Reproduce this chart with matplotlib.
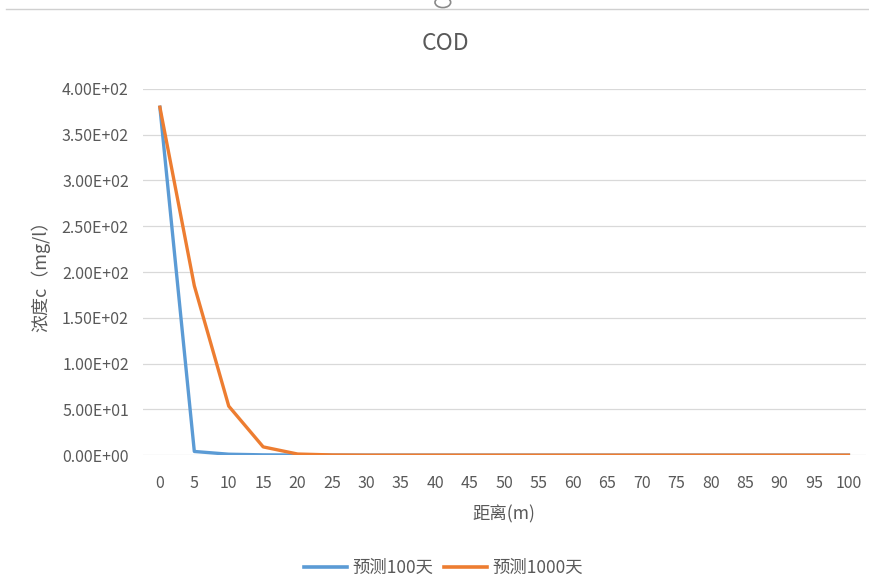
import numpy as np
import matplotlib.pyplot as plt
from matplotlib.lines import Line2D
from matplotlib.patches import Circle

plt.rcParams['font.family'] = ['Noto Sans CJK SC', 'DejaVu Sans']

# Data
distance = [0, 5, 10, 15, 20, 25, 30, 35, 40, 45, 50,
            55, 60, 65, 70, 75, 80, 85, 90, 95, 100]
pred_100 = [380, 4, 1, 0.3, 0.1, 0, 0, 0, 0, 0, 0,
            0, 0, 0, 0, 0, 0, 0, 0, 0, 0]
pred_1000 = [380, 185, 53.5, 9, 1.2, 0.2, 0, 0, 0, 0, 0,
             0, 0, 0, 0, 0, 0, 0, 0, 0, 0]
series_names = ['预测100天', '预测1000天']
colors = ['#5B9BD5', '#ED7D31']
text_color = '#595959'

fig = plt.figure(figsize=(8.7, 5.85), dpi=100)
ax = fig.add_axes([0.164, 0.222, 0.831, 0.626])

x = np.arange(len(distance))
ax.plot(x, pred_100, color=colors[0], lw=2.4, label=series_names[0],
        solid_joinstyle='round')
ax.plot(x, pred_1000, color=colors[1], lw=2.4, label=series_names[1],
        solid_joinstyle='round')

ax.set_xlim(-0.5, len(distance) - 0.5)
ax.set_ylim(0, 400)
ax.set_xticks(x)
ax.set_xticklabels([str(d) for d in distance])
ax.set_yticks(np.arange(0, 401, 50))
ax.set_yticklabels(['%.2E' % v for v in np.arange(0, 401, 50)])
ax.tick_params(length=0, labelsize=11.5, colors=text_color, pad=10)
ax.tick_params(axis='x', pad=14)

ax.grid(axis='y', color='#d9d9d9', lw=0.9)
ax.set_axisbelow(True)
for s in ax.spines.values():
    s.set_visible(False)

fig.text(0.512, 0.925, 'COD', fontsize=16.5, color=text_color,
         ha='center', va='center')
ax.set_xlabel('距离(m)', fontsize=12.5, color=text_color, labelpad=10)
ax.set_ylabel('浓度c（mg/l）', fontsize=13, color=text_color, labelpad=8)

handles = [Line2D([], [], color=c, lw=2.6) for c in colors]
fig.legend(handles, series_names, loc='center', bbox_to_anchor=(0.51, 0.029),
           ncol=2, frameon=False, fontsize=12.5, labelcolor=text_color,
           handlelength=2.5, handletextpad=0.3, columnspacing=0.6)

# selection artefacts at the top of the screenshot
fig.add_artist(Line2D([0.007, 1.0], [0.984, 0.984], color='#d0d0d0', lw=1,
                      transform=fig.transFigure))
fig.add_artist(Circle((0.509, 0.996), 0.009, transform=fig.transFigure,
                      fill=False, ec='#8a8a8a', lw=1.2))

fig.savefig('out.png', dpi=100, facecolor='white')
